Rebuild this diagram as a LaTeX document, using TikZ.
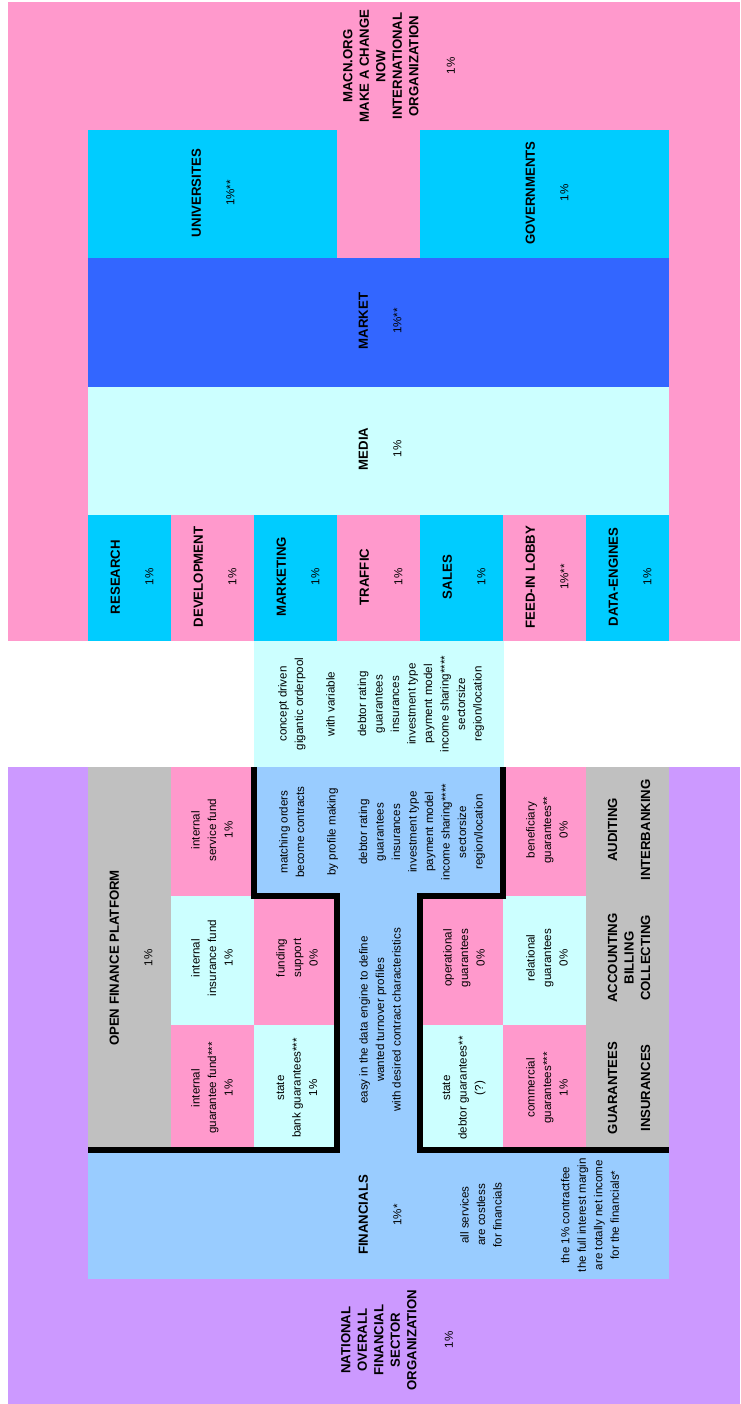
\documentclass[tikz,border=0pt]{standalone}
\usepackage{fontspec}
\setmainfont{Liberation Sans}
\usetikzlibrary{positioning}
\definecolor{macnPink}{HTML}{FF99CC}
\definecolor{macnCyan}{HTML}{00CCFF}
\definecolor{macnPale}{HTML}{CCFFFF}
\definecolor{macnBlue}{HTML}{3366FF}
\definecolor{macnSky}{HTML}{99CCFF}
\definecolor{macnGrey}{HTML}{C0C0C0}
\definecolor{macnLila}{HTML}{CC99FF}
\newcommand{\hdf}{\fontsize{6.6}{8.25}\selectfont\bfseries}
\newcommand{\txf}{\fontsize{5.8}{8.25}\selectfont\mdseries}
\tikzset{
  macnfig/.style={
    x=0.5pt, y=-0.5pt,
    every node/.append style={rotate=90, align=center, inner sep=0pt,
      font=\fontsize{5.8}{8.25}\selectfont},
  },
  pinkcell/.style={fill=macnPink},
  cyancell/.style={fill=macnCyan},
  palecell/.style={fill=macnPale},
  bluecell/.style={fill=macnBlue},
  skycell/.style={fill=macnSky},
  greycell/.style={fill=macnGrey},
  lilacell/.style={fill=macnLila},
  % dicke Grenze um den Vertragsbereich
  border/.style={draw=black, line width=2.6pt, line join=miter},
  title/.style={font=\hdf},
}

\begin{document}
\begin{tikzpicture}[macnfig]
  \useasboundingbox (0,0) rectangle (740,1404);
  % oberer Block
  \fill[pinkcell] (8,2) rectangle (740,641);
  \fill[cyancell] (88,130) rectangle (337,258);
  \fill[cyancell] (420,130) rectangle (669,258);
  \fill[bluecell] (88,258) rectangle (669,387);
  \fill[palecell] (88,387) rectangle (669,515);
  \fill[cyancell] (88,515) rectangle (171,641);
  \fill[pinkcell] (171,515) rectangle (254,641);
  \fill[cyancell] (254,515) rectangle (337,641);
  \fill[pinkcell] (337,515) rectangle (420,641);
  \fill[cyancell] (420,515) rectangle (503,641);
  \fill[pinkcell] (503,515) rectangle (586,641);
  \fill[cyancell] (586,515) rectangle (669,641);
  \fill[palecell] (254,641) rectangle (504,767);
  % unterer Block
  \fill[lilacell] (8,767) rectangle (740,1404);
  \fill[greycell] (88,767) rectangle (171,1150);
  \fill[greycell] (586,767) rectangle (669,1150);
  \fill[pinkcell] (171,767) rectangle (254,896);
  \fill[palecell] (171,896) rectangle (254,1025);
  \fill[pinkcell] (171,1025) rectangle (254,1150);
  \fill[skycell] (254,767) rectangle (503,896);
  \fill[skycell] (337,896) rectangle (420,1150);
  \fill[pinkcell] (254,896) rectangle (337,1025);
  \fill[palecell] (254,1025) rectangle (337,1150);
  \fill[pinkcell] (420,896) rectangle (503,1025);
  \fill[palecell] (420,1025) rectangle (503,1150);
  \fill[pinkcell] (503,767) rectangle (586,896);
  \fill[palecell] (503,896) rectangle (586,1025);
  \fill[pinkcell] (503,1025) rectangle (586,1150);
  \fill[skycell] (88,1150) rectangle (669,1279);
  \draw[border] (254,767) -- (254,896) -- (337,896) -- (337,1150) -- (88,1150);
  \draw[border] (503,767) -- (503,896) -- (420,896) -- (420,1150) -- (669,1150);

  \node[title] (MacnOrg) at (399,66) {MACN.ORG\\MAKE A CHANGE\\NOW\\INTERNATIONAL\\ORGANIZATION\\[10pt]\txf 1\%};
  \node (Universities) at (213,193) {\hdf UNIVERSITES\\[8.5pt]1\%**};
  \node (Governments) at (547,193) {\hdf GOVERNMENTS\\[8.5pt]1\%};
  \node (Market) at (380,321) {\hdf MARKET\\[8.5pt]1\%**};
  \node (Media) at (380,449) {\hdf MEDIA\\[8.5pt]1\%};
  \node (Research) at (132,577) {\hdf RESEARCH\\[8.5pt]1\%};
  \node (Development) at (215,577) {\hdf DEVELOPMENT\\[8.5pt]1\%};
  \node (Marketing) at (298,577) {\hdf MARKETING\\[8.5pt]1\%};
  \node (Traffic) at (381,577) {\hdf TRAFFIC\\[8.5pt]1\%};
  \node (Sales) at (464,577) {\hdf SALES\\[8.5pt]1\%};
  \node (FeedInLobby) at (547,577) {\hdf FEED-IN LOBBY\\[8.5pt]1\%**};
  \node (DataEngines) at (630,577) {\hdf DATA-ENGINES\\[8.5pt]1\%};
  \node (ConceptPool) at (381,704) {concept driven\\gigantic orderpool\\[7.5pt]with variable\\[7.5pt]debtor rating\\guarantees\\insurances\\investment type\\payment model\\income sharing****\\sectorsize\\region/location};

  \node (OpenFinance) at (131,958) {\hdf OPEN FINANCE PLATFORM\\[8.5pt]1\%};
  \node (ServiceFund) at (212,830) {internal\\service fund\\1\%};
  \node (InsuranceFund) at (212,958) {internal\\insurance fund\\1\%};
  \node (GuaranteeFund) at (212,1088) {internal\\guarantee fund***\\1\%};
  \node (FundingSupport) at (297,958) {funding\\support\\0\%};
  \node (StateBank) at (297,1088) {state\\bank guarantees***\\1\%};
  \node (Matching) at (382,832) {matching orders\\become contracts\\[7.5pt]by profile making\\[7.5pt]debtor rating\\guarantees\\insurances\\investment type\\payment model\\income sharing****\\sectorsize\\region/location};
  \node (EasyData) at (380,1020) {easy in the data engine to define\\wanted turnover profiles\\with desired contract characteristics};
  \node (Operational) at (464,958) {operational\\guarantees\\0\%};
  \node (StateDebtor) at (464,1088) {state\\debtor guarantees**\\(?)};
  \node (Beneficiary) at (547,830) {beneficiary\\guarantees**\\0\%};
  \node (Relational) at (547,958) {relational\\guarantees\\0\%};
  \node (Commercial) at (547,1088) {commercial\\guarantees***\\1\%};
  \node[title] (Auditing) at (629,830) {AUDITING\\[8.25pt]INTERBANKING};
  \node[title] (Accounting) at (629,958) {ACCOUNTING\\BILLING\\COLLECTING};
  \node[title] (GuarIns) at (629,1088) {GUARANTEES\\[8.25pt]INSURANCES};
  \node (Financials) at (380,1215) {\hdf FINANCIALS\\[8.5pt]1\%*};
  \node (Costless) at (481,1215) {all services\\are costless\\for financials};
  \node (NetIncome) at (590,1215) {the 1\% contractfee\\the full interest margin\\are totally net income\\for the financials*};
  \node[title] (National) at (397,1340) {NATIONAL\\OVERALL\\FINANCIAL\\SECTOR\\ORGANIZATION\\[10pt]\txf 1\%};
\end{tikzpicture}
\end{document}
